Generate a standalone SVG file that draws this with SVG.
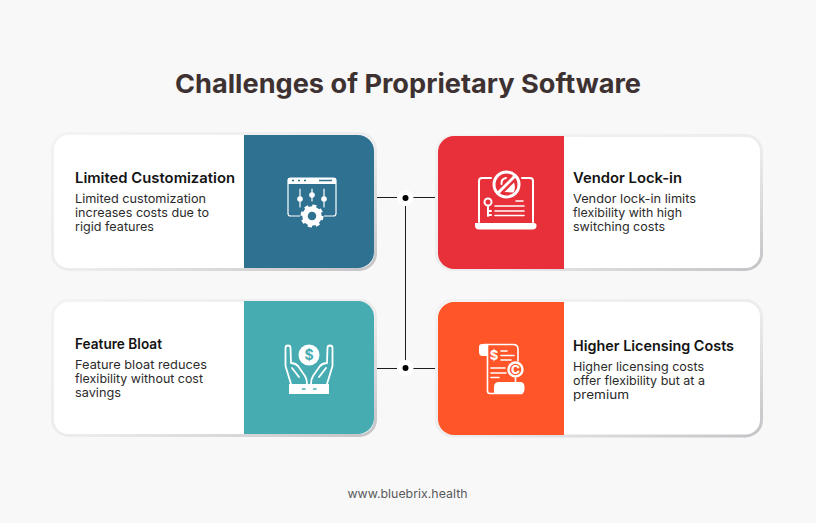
<svg xmlns="http://www.w3.org/2000/svg" width="816" height="523" viewBox="0 0 816 523">
<style>
text{font-family:"Inter","Liberation Sans",sans-serif}
.t{font-size:14.500px;font-weight:600;fill:#131313}
.b{font-size:12px;fill:#2b2b2b}
.card{fill:#fff;stroke:url(#edge);stroke-width:3}
.w{fill:#fff}
.ws{fill:none;stroke:#fff;stroke-width:1.600;stroke-linecap:round;stroke-linejoin:round}
.ln{stroke:#1c1c1c;stroke-width:1;fill:none}
</style>
<defs>
<linearGradient id="edge" x1="0" y1="0" x2="1" y2="1"><stop offset="0" stop-color="#f3f3f3"/><stop offset=".55" stop-color="#ececec"/><stop offset="1" stop-color="#c4c4c8"/></linearGradient>
</defs>
<rect width="816" height="523" fill="#f8f8f8"/>
<text x="408" y="93" text-anchor="middle" font-size="26" font-weight="700" fill="#3d3231" textLength="466" lengthAdjust="spacingAndGlyphs">Challenges of Proprietary Software</text>
<g id="connectors">
<path class="ln" d="M377 197.500H397M413 197.500H435M377 368.500H397M413 368.500H435M405.500 205V361"/>
<circle cx="405.500" cy="198" r="8" fill="#fff"/><circle cx="405.500" cy="198" r="3" fill="#000"/>
<circle cx="405.500" cy="368" r="8" fill="#fff"/><circle cx="405.500" cy="368" r="3" fill="#000"/>
</g>
<g id="limited-customization">
<rect class="card" x="52.500" y="133.500" width="323" height="136" rx="16"/>
<path fill="#2f7190" d="M244 135H358a16 16 0 0 1 16 16V252a16 16 0 0 1-16 16H244Z"/>
<text class="t" x="75" y="183" textLength="160" lengthAdjust="spacingAndGlyphs">Limited Customization</text>
<text class="b" x="75" y="203" textLength="131" lengthAdjust="spacingAndGlyphs">Limited customization</text>
<text class="b" x="75" y="217" textLength="134" lengthAdjust="spacingAndGlyphs">increases costs due to</text>
<text class="b" x="75" y="231" textLength="79" lengthAdjust="spacingAndGlyphs">rigid features</text>
<rect class="ws" x="288" y="178" width="48" height="38" rx="2.500" style="stroke-width:1.200"/>
<path class="w" d="M288 178h48v6h-48Z"/>
<path class="ws" style="stroke-width:1.200" d="M300 189v18M312 189v12M324 189v18"/>
<circle class="w" cx="300" cy="199" r="2.800"/><circle class="w" cx="312" cy="195" r="2.800"/><circle class="w" cx="324" cy="199" r="2.800"/>
<circle cx="312" cy="216" r="12" fill="#2f7190"/>
<circle cx="312" cy="216" r="7" fill="none" stroke="#fff" stroke-width="5.500"/>
<circle cx="312" cy="216" r="10" fill="none" stroke="#fff" stroke-width="3" stroke-dasharray="4 3.850"/>
<path d="M292 180.500h2M298 180.500h2M304 180.500h2M319 180.500h13" stroke="#2f7190" stroke-width="1.500" fill="none"/>
</g>
<g id="vendor-lock-in">
<rect class="card" x="436.500" y="135.500" width="325" height="134" rx="16"/>
<path fill="#e8303a" d="M564 136H454a16 16 0 0 0-16 16V253a16 16 0 0 0 16 16H564Z"/>
<text class="t" x="573" y="183" textLength="109" lengthAdjust="spacingAndGlyphs">Vendor Lock-in</text>
<text class="b" x="573" y="203" textLength="123" lengthAdjust="spacingAndGlyphs">Vendor lock-in limits</text>
<text class="b" x="573" y="217" textLength="109" lengthAdjust="spacingAndGlyphs">flexibility with high</text>
<text class="b" x="573" y="231" textLength="92" lengthAdjust="spacingAndGlyphs">switching costs</text>
<path class="ws" style="stroke-width:2" d="M479 222V181a3 3 0 0 1 3-3H491M522 178H530a3 3 0 0 1 3 3V222"/>
<path class="w" d="M475 223H534a2.500 2.500 0 0 1 2.500 2.500 4 4 0 0 1-4 4H479a4 4 0 0 1-4-4Z"/>
<circle cx="506.500" cy="184.500" r="12.500" fill="none" stroke="#fff" stroke-width="3"/>
<path d="M497 194L516 175" stroke="#fff" stroke-width="3"/>
<path class="w" d="M504.500 192L514 182.500Q516 188 513.500 192.500Z"/>
<path class="ws" style="stroke-width:2" d="M501.500 184Q501 179 506 178"/>
<circle cx="488" cy="202" r="3.500" fill="none" stroke="#fff" stroke-width="2"/>
<path class="ws" style="stroke-width:2" d="M488 206V216M488 211h3M488 215h3"/>
<path class="ws" d="M516 201h7M495 206h29M495 211h29M495 215.500h29"/>
</g>
<g id="feature-bloat">
<rect class="card" x="52.500" y="300.500" width="323" height="135" rx="16"/>
<path fill="#47acb2" d="M244 301H358a16 16 0 0 1 16 16V418a16 16 0 0 1-16 16H244Z"/>
<text class="t" x="75" y="349" textLength="87" lengthAdjust="spacingAndGlyphs">Feature Bloat</text>
<text class="b" x="75" y="369" textLength="132" lengthAdjust="spacingAndGlyphs">Feature bloat reduces</text>
<text class="b" x="75" y="383" textLength="128" lengthAdjust="spacingAndGlyphs">flexibility without cost</text>
<text class="b" x="75" y="397" textLength="46" lengthAdjust="spacingAndGlyphs">savings</text>
<circle class="w" cx="309" cy="355" r="10.500"/>
<text x="309" y="360" text-anchor="middle" font-size="14" font-weight="700" fill="#47acb2">$</text>
<path class="ws" style="stroke-width:1.800" d="M291 384L285.500 366V348a2.500 2.500 0 0 1 5 0L291 363Q295 363 298 366L305 376Q307 379 307 384M327 384L332.500 366V348a2.500 2.500 0 0 0-5 0L327 363Q323 363 320 366L313 376Q311 379 311 384M292 368L299 377M326 368L319 377"/>
<path class="w" d="M289 384H329V394H289Z"/>
<path d="M302 389h3.500M313 389h3.500" stroke="#47acb2" stroke-width="1.500"/>
</g>
<g id="higher-licensing-costs">
<rect class="card" x="436.500" y="300.500" width="325" height="135.500" rx="16"/>
<path fill="#ff5528" d="M564 302H454a16 16 0 0 0-16 16V419a16 16 0 0 0 16 16H564Z"/>
<text class="t" x="573" y="351" textLength="161" lengthAdjust="spacingAndGlyphs">Higher Licensing Costs</text>
<text class="b" x="573" y="371" textLength="131" lengthAdjust="spacingAndGlyphs">Higher licensing costs</text>
<text class="b" x="573" y="385" textLength="132" lengthAdjust="spacingAndGlyphs">offer flexibility but at a</text>
<text class="b" x="573" y="399" textLength="56" lengthAdjust="spacingAndGlyphs">premium</text>
<path class="w" d="M482 344H487V356H482.500Q479 356 479 352V347Q479 344 482 344Z"/>
<path class="ws" d="M484 344.500H513Q518 344.500 518 349V361M487.500 345V391Q487.500 393.500 490 393.500H522"/>
<path class="w" d="M499 382H520Q524.500 382 524.500 387V389Q524.500 394 520 394H494V387Q494 382 499 382Z"/>
<text x="494" y="360" text-anchor="middle" font-size="13" font-weight="700" fill="#fff">$</text>
<path class="ws" d="M501 351H507M501 355.500H514M501 360H511M491 368H505M491 373H506M491 377.500H499"/>
<circle cx="515.500" cy="369.500" r="7" fill="#ff5528" stroke="#fff" stroke-width="2.500"/>
<text x="515.500" y="374" text-anchor="middle" font-size="12" font-weight="800" fill="#fff">C</text>
<path class="ws" d="M515.500 378V382"/>
</g>
<text x="407.500" y="498" text-anchor="middle" font-size="12" fill="#5a5a5a" textLength="120" lengthAdjust="spacingAndGlyphs">www.bluebrix.health</text>
</svg>
